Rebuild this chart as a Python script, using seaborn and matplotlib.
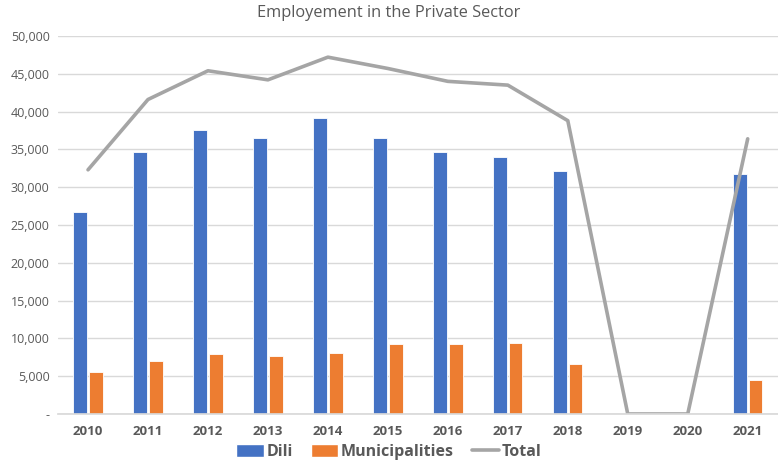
import numpy as np
import pandas as pd
import seaborn as sns
import matplotlib.pyplot as plt
from matplotlib.ticker import FuncFormatter
from matplotlib.lines import Line2D
from matplotlib.patches import Patch

# Data
years = ["2010", "2011", "2012", "2013", "2014", "2015",
         "2016", "2017", "2018", "2019", "2020", "2021"]
dili = [26700, 34600, 37500, 36500, 39200, 36500,
        34700, 34000, 32200, np.nan, np.nan, 31800]
municipalities = [5600, 7000, 7900, 7700, 8100, 9200,
                  9300, 9400, 6600, np.nan, np.nan, 4500]
total = [32300, 41600, 45400, 44200, 47200, 45700,
         44000, 43500, 38800, 0, 0, 36400]

BLUE = "#4472C4"
ORANGE = "#ED7D31"
GREY = "#A5A5A5"
TEXT = "#595959"

sns.set_theme(style="white")
plt.rcParams["font.family"] = ["Open Sans", "DejaVu Sans"]

bars = pd.DataFrame({"Year": years, "Dili": dili, "Municipalities": municipalities})
bars_long = bars.melt(id_vars="Year", var_name="Series", value_name="Employed")
line_df = pd.DataFrame({"pos": np.arange(len(years)), "Total": total})

fig = plt.figure(figsize=(7.78, 4.68), dpi=100)
ax = fig.add_axes([0.0746, 0.1154, 0.925, 0.8077])

sns.barplot(data=bars_long, x="Year", y="Employed", hue="Series",
            palette=[BLUE, ORANGE], saturation=1, width=0.52, gap=0.12,
            edgecolor="white", linewidth=0.6, legend=False, ax=ax)
sns.lineplot(data=line_df, x="pos", y="Total", color=GREY, linewidth=2.6,
             ax=ax, legend=False)

ax.set_xlim(-0.5, len(years) - 0.5)
ax.set_ylim(0, 50000)
ax.set_yticks(np.arange(0, 50001, 5000))
ax.yaxis.set_major_formatter(FuncFormatter(lambda v, p: "-" if v == 0 else f"{int(v):,}"))
ax.grid(axis="y", color="#D9D9D9", linewidth=1)
ax.set_axisbelow(True)
for s in ["top", "right", "left"]:
    ax.spines[s].set_visible(False)
ax.spines["bottom"].set_color("#D9D9D9")
ax.set_xlabel("")
ax.set_ylabel("")
ax.tick_params(axis="both", length=0)
ax.tick_params(axis="y", labelsize=9, labelcolor=TEXT, pad=6)
ax.tick_params(axis="x", labelsize=9.5, labelcolor=TEXT, pad=8)
for lab in ax.get_xticklabels():
    lab.set_fontweight("bold")

fig.text(0.5, 0.972, "Employement in the Private Sector", ha="center", va="center",
         fontsize=11.8, color=TEXT)

handles = [Patch(facecolor=BLUE, label="Dili"),
           Patch(facecolor=ORANGE, label="Municipalities"),
           Line2D([0], [0], color=GREY, linewidth=2.6, label="Total")]
leg = fig.legend(handles=handles, loc="center", bbox_to_anchor=(0.5, 0.034),
                 ncol=3, frameon=False, fontsize=11.5, handlelength=1.7,
                 handleheight=0.9, handletextpad=0.2, columnspacing=1.1)
for t in leg.get_texts():
    t.set_color(TEXT)
    t.set_fontweight("bold")

fig.savefig("out.png", dpi=100)
